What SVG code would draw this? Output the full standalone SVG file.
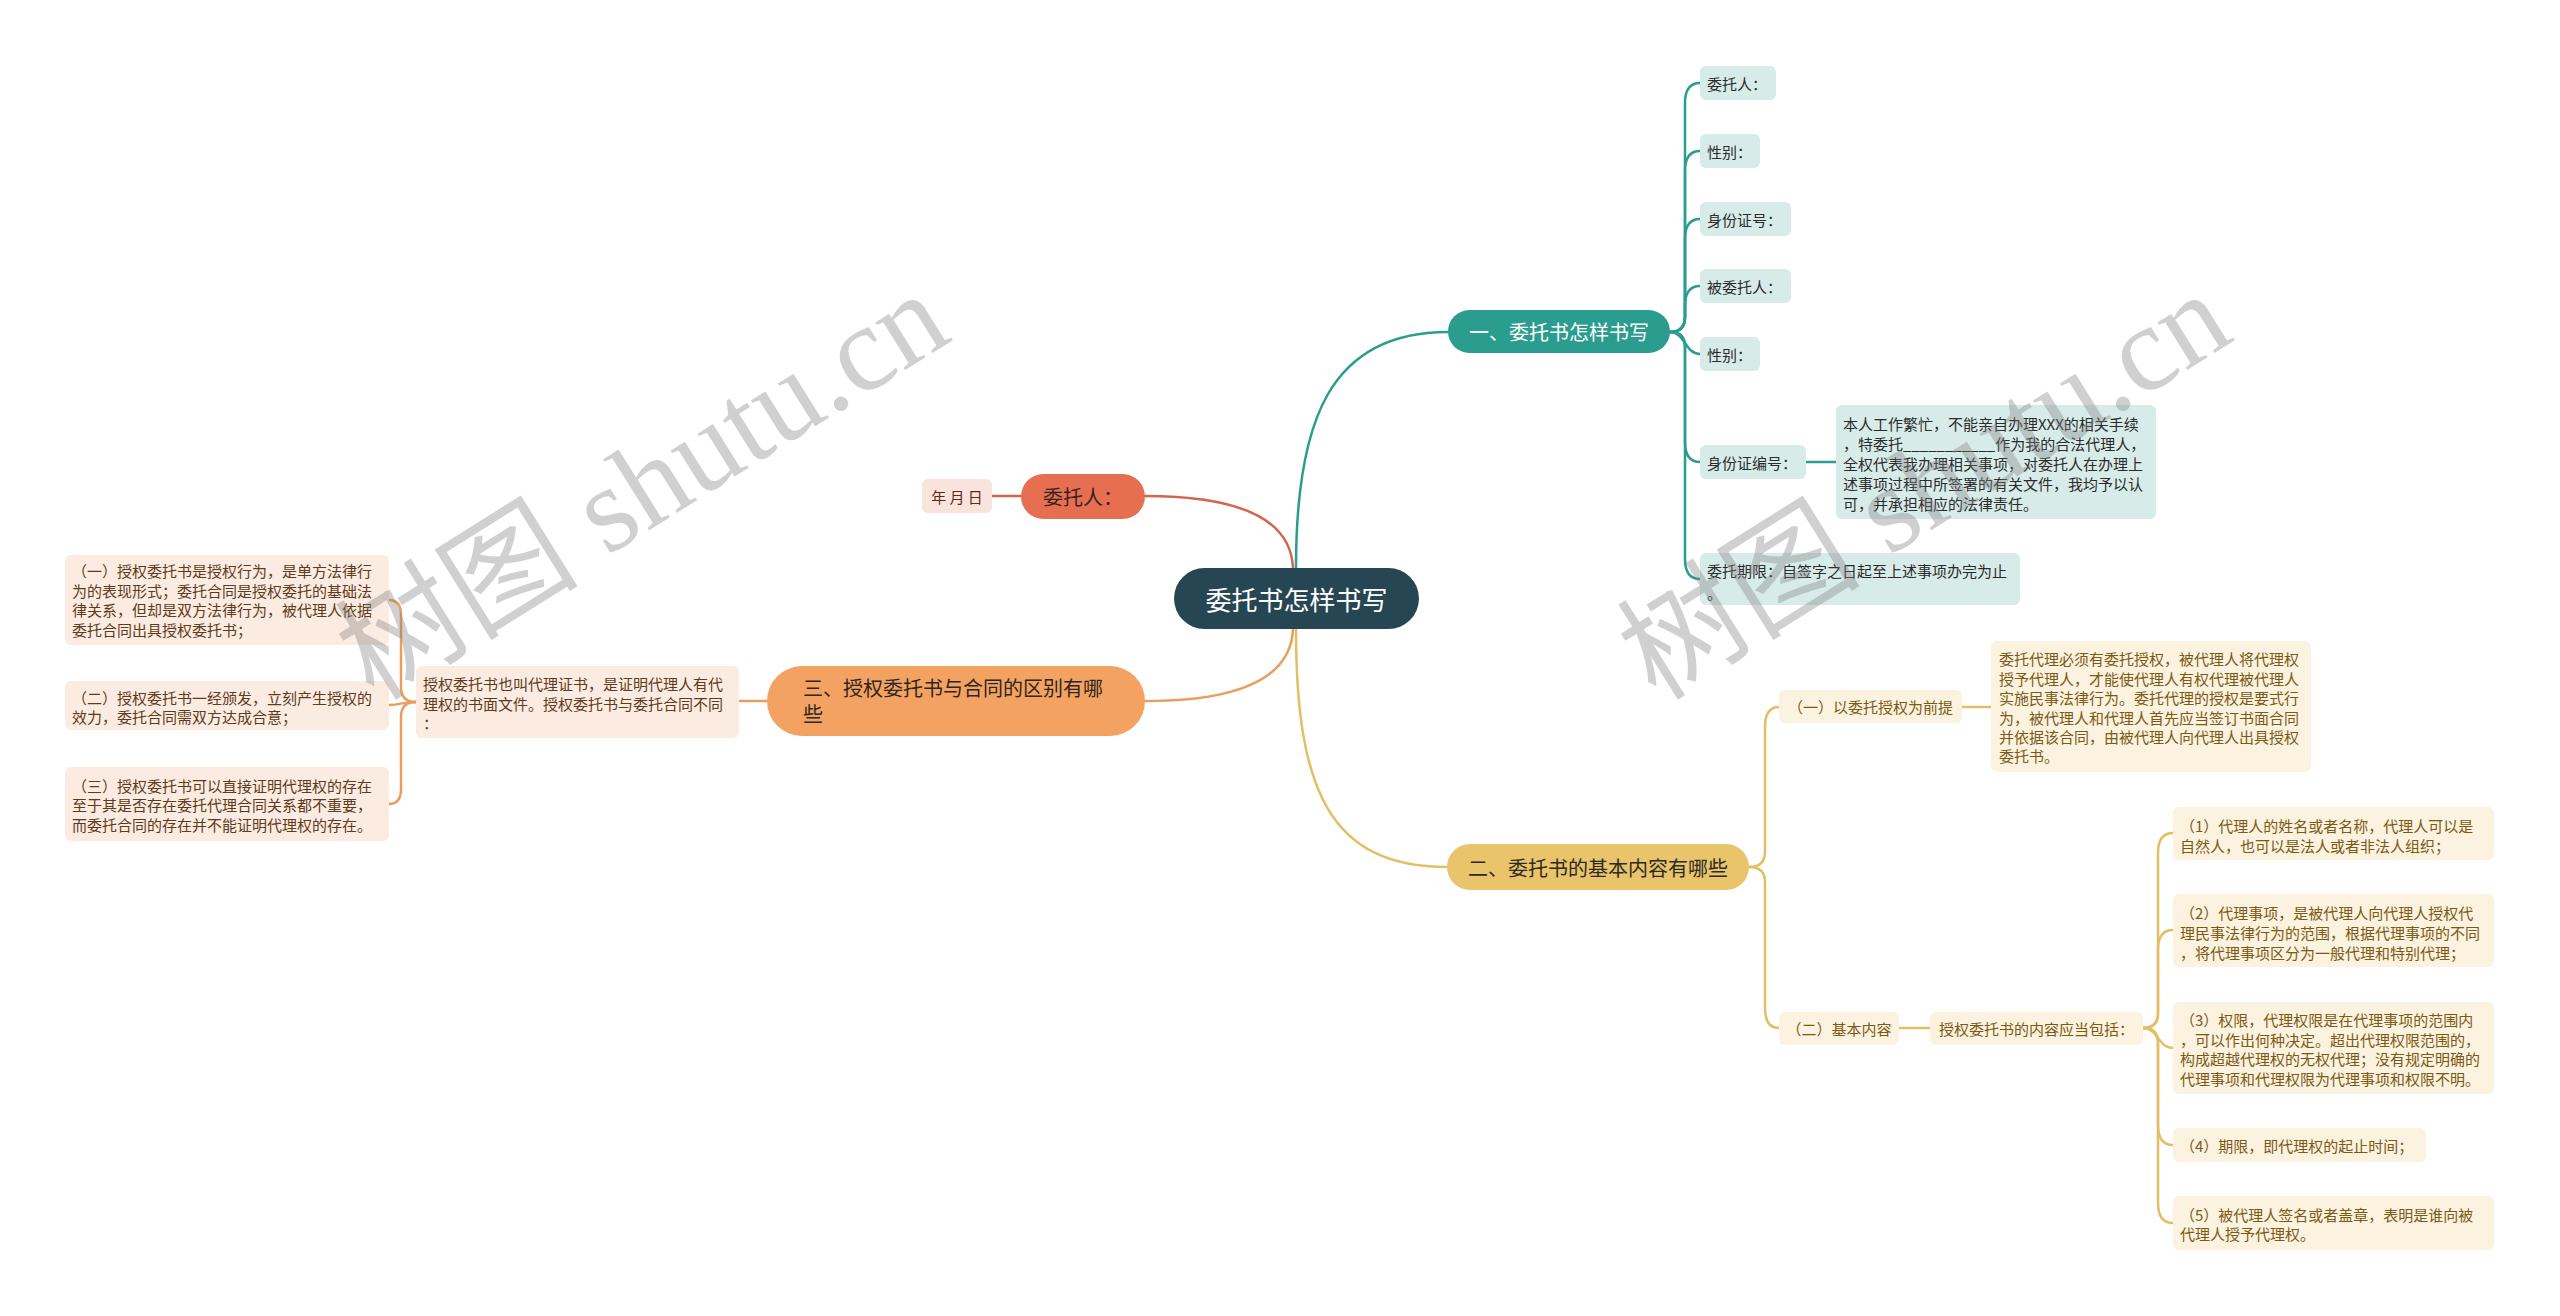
<svg xmlns="http://www.w3.org/2000/svg" width="2560" height="1316" viewBox="0 0 2560 1316">
<style>
text{font-family:"Noto Sans CJK SC","Noto Sans",sans-serif;dominant-baseline:central}
.c{fill:none;stroke-width:2.5;stroke-linecap:round}
.ct{stroke:#2a9d8f}.cy{stroke:#e2bf66}.co{stroke:#e99e5e}.cr{stroke:#d0664c}
.tb{fill:#d7ebe8}.tt{font-size:15px;fill:#2b2b2b}
.yb{fill:#fbf2df}.yt{font-size:15px;fill:#7a5a14}
.ob{fill:#fcebe0}.ot{font-size:15px;fill:#5c3b20}
.l1{font-size:20px}
.wm{font-family:"Liberation Serif","Noto Sans CJK SC",serif;font-size:122px;fill:#808080;opacity:0.36;dominant-baseline:alphabetic}
</style>
<rect width="2560" height="1316" fill="#ffffff"/>
<g id="connectors">
<path class="c cr" d="M1293,568 Q1290,496 1145,496"/>
<path class="c cr" d="M1021,496 L992,496"/>
<path class="c ct" d="M1296,568 C1296,420 1330,332 1448,332"/>
<path class="c cy" d="M1296,629 C1296,790 1330,867 1447,867"/>
<path class="c co" d="M1293,629 Q1290,701 1145,701"/>
<path class="c ct" d="M1670,332 Q1685,332 1685,317 L1685,103 Q1685,83 1700,83"/>
<path class="c ct" d="M1670,332 Q1685,332 1685,317 L1685,171 Q1685,151 1700,151"/>
<path class="c ct" d="M1670,332 Q1685,332 1685,317 L1685,239 Q1685,219 1700,219"/>
<path class="c ct" d="M1670,332 Q1685,332 1685,317 L1685,306 Q1685,286 1700,286"/>
<path class="c ct" d="M1670,332 C1685,332 1685,354 1700,354"/>
<path class="c ct" d="M1670,332 Q1685,332 1685,347 L1685,442 Q1685,462 1700,462"/>
<path class="c ct" d="M1670,332 Q1685,332 1685,347 L1685,559 Q1685,579 1700,579"/>
<path class="c ct" d="M1806,462 L1836,462"/>
<path class="c cy" d="M1749,867 Q1765,867 1765,852 L1765,727 Q1765,707 1779,707"/>
<path class="c cy" d="M1749,867 Q1765,867 1765,882 L1765,1008 Q1765,1028 1779,1028"/>
<path class="c cy" d="M1962,707 L1991,707"/>
<path class="c cy" d="M1899,1028 L1930,1028"/>
<path class="c cy" d="M2143,1028 Q2158,1028 2158,1013 L2158,853 Q2158,833 2173,833"/>
<path class="c cy" d="M2143,1028 Q2158,1028 2158,1013 L2158,950 Q2158,930 2173,930"/>
<path class="c cy" d="M2143,1028 C2158,1028 2158,1048 2173,1048"/>
<path class="c cy" d="M2143,1028 Q2158,1028 2158,1043 L2158,1125 Q2158,1145 2173,1145"/>
<path class="c cy" d="M2143,1028 Q2158,1028 2158,1043 L2158,1203 Q2158,1223 2173,1223"/>
<path class="c co" d="M767,701 L739,701"/>
<path class="c co" d="M416,702 Q401,702 401,687 L401,615 Q401,600 389,600"/>
<path class="c co" d="M416,702 C401,702 401,705 389,705"/>
<path class="c co" d="M416,702 Q401,702 401,717 L401,789 Q401,804 389,804"/>
</g>
<g id="root">
<rect x="1174" y="568" width="245" height="61" rx="30.5" fill="#264653"/>
<text x="1296.5" y="598.5" text-anchor="middle" font-size="26" fill="#ffffff">委托书怎样书写</text>
</g>
<g id="n-weituoren">
<rect x="1021" y="474" width="124" height="45" rx="22.5" fill="#e76f51"/>
<text x="1043" y="496" class="l1" fill="#3a221c">委托人：</text>
</g>
<g id="n-date">
<rect x="922" y="479" width="70" height="34" rx="6" fill="#fae3dc"/>
<text x="957" y="496" text-anchor="middle" font-size="15" fill="#5b2a1e">年 月 日</text>
</g>
<g id="b1">
<rect x="1448" y="310" width="222" height="43" rx="21.5" fill="#2a9d8f"/>
<text x="1559" y="331.5" text-anchor="middle" class="l1" fill="#ffffff">一、委托书怎样书写</text>
</g>
<g id="b1-1"><rect class="tb" x="1700" y="66" width="76" height="34" rx="6"/><text class="tt" x="1707" y="83">委托人：</text></g>
<g id="b1-2"><rect class="tb" x="1700" y="134" width="60" height="34" rx="6"/><text class="tt" x="1707" y="151">性别：</text></g>
<g id="b1-3"><rect class="tb" x="1700" y="202" width="91" height="34" rx="6"/><text class="tt" x="1707" y="219">身份证号：</text></g>
<g id="b1-4"><rect class="tb" x="1700" y="269" width="91" height="34" rx="6"/><text class="tt" x="1707" y="286">被委托人：</text></g>
<g id="b1-5"><rect class="tb" x="1700" y="337" width="60" height="34" rx="6"/><text class="tt" x="1707" y="354">性别：</text></g>
<g id="b1-6"><rect class="tb" x="1700" y="445" width="106" height="34" rx="6"/><text class="tt" x="1707" y="462">身份证编号：</text></g>
<g id="b1-6-1"><rect class="tb" x="1836" y="405" width="320" height="114" rx="6"/>
<text class="tt" x="1843" y="423">本人工作繁忙，不能亲自办理XXX的相关手续</text>
<text class="tt" x="1843" y="443">，特委托___________作为我的合法代理人，</text>
<text class="tt" x="1843" y="463">全权代表我办理相关事项，对委托人在办理上</text>
<text class="tt" x="1843" y="483">述事项过程中所签署的有关文件，我均予以认</text>
<text class="tt" x="1843" y="503">可，并承担相应的法律责任。</text>
</g>
<g id="b1-7"><rect class="tb" x="1700" y="553" width="320" height="52" rx="6"/>
<text class="tt" x="1707" y="570">委托期限：自签字之日起至上述事项办完为止</text>
<text class="tt" x="1707" y="592">。</text>
</g>
<g id="b2">
<rect x="1447" y="844" width="302" height="46" rx="23" fill="#e9c46a"/>
<text x="1598" y="867" text-anchor="middle" class="l1" fill="#2e2a22">二、委托书的基本内容有哪些</text>
</g>
<g id="b2-1"><rect class="yb" x="1779" y="690" width="183" height="33" rx="6"/><text class="yt" x="1870.5" y="706.5" text-anchor="middle">（一）以委托授权为前提</text></g>
<g id="b2-1-1"><rect class="yb" x="1991" y="641" width="320" height="131" rx="6"/>
<text class="yt" x="1999" y="658">委托代理必须有委托授权，被代理人将代理权</text>
<text class="yt" x="1999" y="678">授予代理人，才能使代理人有权代理被代理人</text>
<text class="yt" x="1999" y="697">实施民事法律行为。委托代理的授权是要式行</text>
<text class="yt" x="1999" y="717">为，被代理人和代理人首先应当签订书面合同</text>
<text class="yt" x="1999" y="736">并依据该合同，由被代理人向代理人出具授权</text>
<text class="yt" x="1999" y="755">委托书。</text>
</g>
<g id="b2-2"><rect class="yb" x="1779" y="1012" width="120" height="33" rx="6"/><text class="yt" x="1839" y="1028.5" text-anchor="middle">（二）基本内容</text></g>
<g id="b2-2-1"><rect class="yb" x="1930" y="1012" width="213" height="33" rx="6"/><text class="yt" x="2036.5" y="1028.5" text-anchor="middle">授权委托书的内容应当包括：</text></g>
<g id="b2-2-1-1"><rect class="yb" x="2173" y="807" width="321" height="53" rx="6"/>
<text class="yt" x="2180" y="825">（1）代理人的姓名或者名称，代理人可以是</text>
<text class="yt" x="2180" y="845">自然人，也可以是法人或者非法人组织；</text>
</g>
<g id="b2-2-1-2"><rect class="yb" x="2173" y="894" width="321" height="73" rx="6"/>
<text class="yt" x="2180" y="912">（2）代理事项，是被代理人向代理人授权代</text>
<text class="yt" x="2180" y="932">理民事法律行为的范围，根据代理事项的不同</text>
<text class="yt" x="2180" y="952">，将代理事项区分为一般代理和特别代理；</text>
</g>
<g id="b2-2-1-3"><rect class="yb" x="2173" y="1002" width="321" height="92" rx="6"/>
<text class="yt" x="2180" y="1019">（3）权限，代理权限是在代理事项的范围内</text>
<text class="yt" x="2180" y="1039">，可以作出何种决定。超出代理权限范围的，</text>
<text class="yt" x="2180" y="1058">构成超越代理权的无权代理；没有规定明确的</text>
<text class="yt" x="2180" y="1078">代理事项和代理权限为代理事项和权限不明。</text>
</g>
<g id="b2-2-1-4"><rect class="yb" x="2173" y="1128" width="253" height="34" rx="6"/>
<text class="yt" x="2180" y="1145">（4）期限，即代理权的起止时间；</text>
</g>
<g id="b2-2-1-5"><rect class="yb" x="2173" y="1196" width="321" height="54" rx="6"/>
<text class="yt" x="2180" y="1214">（5）被代理人签名或者盖章，表明是谁向被</text>
<text class="yt" x="2180" y="1233">代理人授予代理权。</text>
</g>
<g id="b3">
<rect x="767" y="666" width="378" height="70" rx="35" fill="#f4a261"/>
<text x="803" y="687" class="l1" fill="#2e2620">三、授权委托书与合同的区别有哪</text>
<text x="803" y="713" class="l1" fill="#2e2620">些</text>
</g>
<g id="b3-1"><rect class="ob" x="416" y="666" width="323" height="72" rx="6"/>
<text class="ot" x="423" y="683">授权委托书也叫代理证书，是证明代理人有代</text>
<text class="ot" x="423" y="703">理权的书面文件。授权委托书与委托合同不同</text>
<text class="ot" x="423" y="722">：</text>
</g>
<g id="b3-1-1"><rect class="ob" x="65" y="555" width="324" height="90" rx="6"/>
<text class="ot" x="72" y="570">（一）授权委托书是授权行为，是单方法律行</text>
<text class="ot" x="72" y="590">为的表现形式；委托合同是授权委托的基础法</text>
<text class="ot" x="72" y="609">律关系，但却是双方法律行为，被代理人依据</text>
<text class="ot" x="72" y="629">委托合同出具授权委托书；</text>
</g>
<g id="b3-1-2"><rect class="ob" x="65" y="681" width="324" height="49" rx="6"/>
<text class="ot" x="72" y="697">（二）授权委托书一经颁发，立刻产生授权的</text>
<text class="ot" x="72" y="716">效力，委托合同需双方达成合意；</text>
</g>
<g id="b3-1-3"><rect class="ob" x="65" y="767" width="324" height="74" rx="6"/>
<text class="ot" x="72" y="785">（三）授权委托书可以直接证明代理权的存在</text>
<text class="ot" x="72" y="804">至于其是否存在委托代理合同关系都不重要，</text>
<text class="ot" x="72" y="824">而委托合同的存在并不能证明代理权的存在。</text>
</g>
<g id="watermarks">
<text class="wm" transform="translate(374,702) rotate(-32)">树图 shutu.cn</text>
<text class="wm" transform="translate(1656,702) rotate(-32)">树图 shutu.cn</text>
</g>
</svg>
